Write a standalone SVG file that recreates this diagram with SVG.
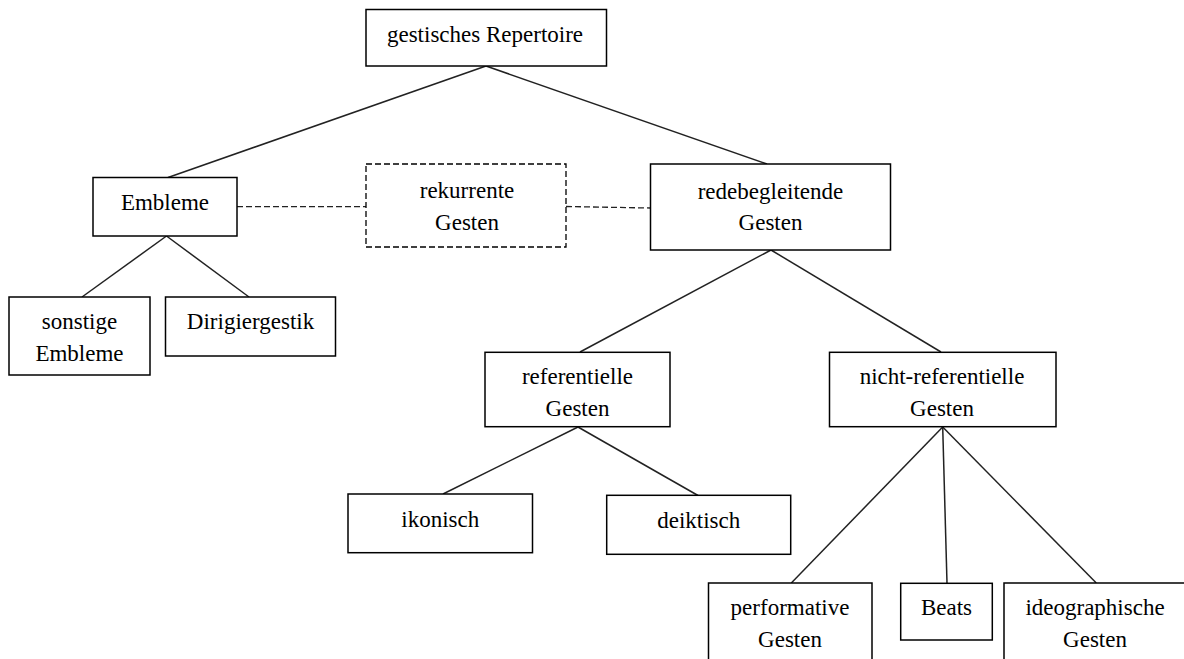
<svg xmlns="http://www.w3.org/2000/svg" width="1184" height="659" viewBox="0 0 1184 659">
<style>
.box{fill:#fff;stroke:#000;stroke-width:1.5}
.dbox{fill:#fff;stroke:#000;stroke-width:1.3;stroke-dasharray:6 3}
.ln{stroke:#222;stroke-width:1.5;fill:none}
.dl{stroke:#222;stroke-width:1.3;fill:none;stroke-dasharray:6 3}
text{font-size:23px;fill:#000;text-anchor:middle}
</style>
<rect width="1184" height="659" fill="#fff"/>
<g id="connectors">
<line class="ln" x1="486" y1="66" x2="168" y2="177.5"/>
<line class="ln" x1="486" y1="66" x2="767" y2="164"/>
<line class="ln" x1="166.5" y1="236" x2="82" y2="297"/>
<line class="ln" x1="166.5" y1="236" x2="249" y2="297"/>
<line class="dl" x1="237" y1="206.7" x2="366" y2="206.7"/>
<line class="dl" x1="566" y1="206.5" x2="650" y2="208"/>
<line class="ln" x1="771" y1="250" x2="580" y2="352"/>
<line class="ln" x1="771" y1="250" x2="941" y2="352"/>
<line class="ln" x1="578" y1="427" x2="443" y2="494"/>
<line class="ln" x1="578" y1="427" x2="698" y2="495.5"/>
<line class="ln" x1="942.7" y1="427" x2="791.3" y2="583"/>
<line class="ln" x1="942.7" y1="427" x2="947" y2="583"/>
<line class="ln" x1="942.7" y1="427" x2="1096.3" y2="583"/>
</g>
<g id="n-repertoire">
<rect class="box" x="366" y="9.5" width="240.5" height="56.5"/>
<text x="485" y="42" font-family="Liberation Serif, serif">gestisches Repertoire</text>
</g>
<g id="n-embleme">
<rect class="box" x="93" y="177.5" width="144" height="58.5"/>
<text x="165" y="209.5" font-family="Liberation Serif, serif">Embleme</text>
</g>
<g id="n-rekurrente">
<rect class="dbox" x="366" y="164" width="200" height="83"/>
<text x="467" y="197.5" font-family="Liberation Serif, serif">rekurrente</text>
<text x="467" y="229.5" font-family="Liberation Serif, serif">Gesten</text>
</g>
<g id="n-redebegleitende">
<rect class="box" x="650.5" y="164" width="240" height="86"/>
<text x="770.5" y="198.5" font-family="Liberation Serif, serif">redebegleitende</text>
<text x="770.5" y="230" font-family="Liberation Serif, serif">Gesten</text>
</g>
<g id="n-sonstige">
<rect class="box" x="9" y="297" width="141" height="78"/>
<text x="79.5" y="328.5" font-family="Liberation Serif, serif">sonstige</text>
<text x="79.5" y="360.5" font-family="Liberation Serif, serif">Embleme</text>
</g>
<g id="n-dirigier">
<rect class="box" x="165.5" y="297" width="170" height="59"/>
<text x="250.5" y="328.5" font-family="Liberation Serif, serif">Dirigiergestik</text>
</g>
<g id="n-referentielle">
<rect class="box" x="485" y="352.3" width="185" height="74.4"/>
<text x="577.5" y="384" font-family="Liberation Serif, serif">referentielle</text>
<text x="577.5" y="416" font-family="Liberation Serif, serif">Gesten</text>
</g>
<g id="n-nichtref">
<rect class="box" x="829.5" y="352.3" width="226.5" height="74.4"/>
<text x="942" y="384" font-family="Liberation Serif, serif">nicht-referentielle</text>
<text x="942" y="416" font-family="Liberation Serif, serif">Gesten</text>
</g>
<g id="n-ikonisch">
<rect class="box" x="348" y="494" width="184.5" height="58.7"/>
<text x="440.3" y="527" font-family="Liberation Serif, serif">ikonisch</text>
</g>
<g id="n-deiktisch">
<rect class="box" x="606.7" y="495.3" width="184" height="59"/>
<text x="698.7" y="527.5" font-family="Liberation Serif, serif">deiktisch</text>
</g>
<g id="n-performative">
<rect class="box" x="708.5" y="583" width="163.5" height="90"/>
<text x="790" y="615" font-family="Liberation Serif, serif">performative</text>
<text x="790" y="646.7" font-family="Liberation Serif, serif">Gesten</text>
</g>
<g id="n-beats">
<rect class="box" x="900.7" y="583.3" width="91.6" height="56.7"/>
<text x="946.5" y="614.5" font-family="Liberation Serif, serif">Beats</text>
</g>
<g id="n-ideographische">
<rect class="box" x="1004" y="583" width="182" height="90"/>
<text x="1095" y="614.5" font-family="Liberation Serif, serif">ideographische</text>
<text x="1095" y="646.7" font-family="Liberation Serif, serif">Gesten</text>
</g>
</svg>
